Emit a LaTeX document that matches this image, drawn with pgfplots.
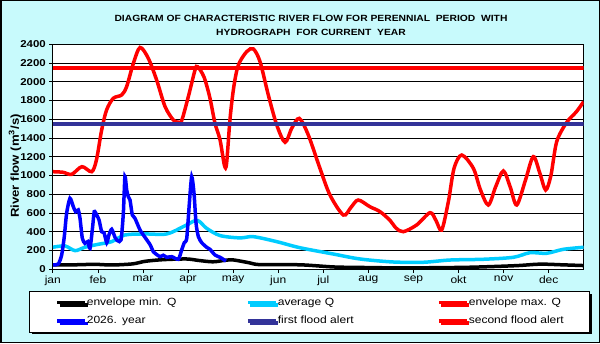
\documentclass[border=0pt]{standalone}
\usepackage{fontspec}
\setmainfont{Liberation Sans}[FakeStretch=1.15]
\usepackage{pgfplots}
\pgfplotsset{compat=1.18}
\usetikzlibrary{shadows}
\definecolor{chartbg}{RGB}{200,250,252}
\definecolor{avgq}{RGB}{0,204,255}
\definecolor{alertblue}{RGB}{51,51,153}

\begin{document}
\begin{tikzpicture}[x=1bp,y=1bp]
\fill[chartbg] (0,0) rectangle (600,343);
\draw[black, line width=1.5bp] (0.75,0.75) rectangle (599.25,342.25);
\node[font=\bfseries\fontsize{9}{14}\selectfont, align=center] at (311,318)
  {DIAGRAM OF CHARACTERISTIC RIVER FLOW FOR PERENNIAL~ PERIOD~ WITH\\HYDROGRAPH~ FOR CURRENT~ YEAR};
\begin{axis}[
    scale only axis, width=530.8bp, height=225bp,
    at={(52.8bp,73.7bp)}, anchor=south west,
    xmin=0, xmax=365, ymin=0, ymax=2400,
    xtick={0,31,...,341},
    xticklabels={jan,feb,mar,apr,may,jun,jul,aug,sep,okt,nov,dec},
    ytick={0,200,...,2400},
    ymajorgrids, grid style={black, line width=0.7bp},
    axis line style={line width=0.8bp},
    tick style={black, line width=0.7bp},
    tick align=outside, major tick length=3.5bp,
    xtick pos=bottom, ytick pos=left,
    axis background/.style={fill=white},
    /pgf/number format/assume math mode=true,
    /pgf/number format/1000 sep={},
    yticklabel style={font=\bfseries\fontsize{10}{12}\selectfont},
    xticklabel style={font=\fontsize{10.5}{12}\selectfont},
    ylabel={River flow (m\textsuperscript{3}/s)},
    ylabel style={font=\bfseries\fontsize{11.5}{13}\selectfont,
        at={(axis description cs:-0.0712,0.459)}, anchor=center},
    legend columns=3,
    legend cell align=left,
    legend image code/.code={\draw[#1] (0bp,0bp) -- (28bp,0bp);},
    legend style={
        at={(axis description cs:-0.045,-0.096)}, anchor=north west,
        draw=black, line width=0.8bp, fill=white,
        drop shadow={shadow xshift=2.5bp, shadow yshift=-2.5bp, fill=black, opacity=1},
        inner xsep=26bp, inner ysep=5bp,
        font=\fontsize{10.5}{12}\selectfont,
        row sep=6.5bp,
        nodes={inner xsep=0pt, inner ysep=1.5bp},
        /tikz/column 2/.style={text width=159bp},
        /tikz/column 4/.style={text width=159bp},
    },
]
% envelope min. Q
\addplot[black, line width=3.5bp, smooth, tension=0.5] coordinates {
(0,46) (15,48) (29,53) (40.5,46) (55,58) (63.4,85) (76,103) (92,110)
(100,95) (110,80) (118,95) (124,100) (135,70) (142.5,50) (170,48)
(193,25) (211,20) (240,15) (280,20) (300,28) (320,40) (335,55) (350,48) (365,40)};
\addlegendentry{envelope min. Q}
% average Q
\addplot[avgq, line width=3.5bp, smooth, tension=0.5] coordinates {
(0,235) (8.4,249) (15.3,199) (22,235) (31.3,267) (40.5,295) (49.6,366)
(63.4,377) (78.3,377) (89.7,455) (97.8,519) (101,508) (105.8,437) (115,360)
(128.7,335) (137.9,348) (154,295) (170,230) (192.9,163) (211.3,110)
(234.1,78) (254.8,75) (273.1,99) (296,107) (316.7,128) (328.1,177)
(339.6,171) (351,213) (365,235)};
\addlegendentry{average Q}
% envelope max. Q
\addplot[red, line width=3.5bp, smooth, tension=0.5] coordinates {
(0,1041) (7,1035) (13,1013) (20,1095) (26.7,1041) (30,1166) (33.6,1486)
(37,1700) (41.6,1824) (47.4,1860) (50.8,1950) (55.4,2197) (60,2366)
(65.7,2250) (71.4,2019) (77.2,1735) (82.9,1592) (86.3,1570) (88.6,1585)
(93.2,1842) (97.8,2126) (99.6,2161) (104,2050) (108,1830) (111.5,1560)
(115,1380) (118,1110) (119.5,1130) (121.9,1610) (124.5,1950) (127.6,2179)
(133.3,2321) (137.9,2350) (142.5,2215) (148.2,1859) (154,1539) (159.7,1355)
(164.3,1504) (169.5,1610) (175.7,1432) (183.7,1077) (190.6,792) (199.8,579)
(205,660) (210,739) (218,668) (225,615) (232,520) (236,440) (241,401)
(250.2,473) (259.4,604) (263.5,520) (267.4,419) (272,721) (275.9,1077)
(281.2,1219) (289.2,1077) (294,850) (299.5,686) (304.5,880) (309.8,1049)
(314.5,880) (319,686) (325,950) (330.4,1202) (335,1020) (338.9,846)
(342.5,1000) (346.5,1362) (353.4,1568) (360,1680) (365,1788)};
\addlegendentry{envelope max. Q}
% current year
\addplot[blue, line width=3.5bp, smooth, tension=0.4] coordinates {
(0.3,46) (3.8,57) (6.1,153) (7.9,348) (9.5,597) (11.8,757) (14.1,668)
(15.7,615) (17.5,633) (18.7,544) (20.3,331) (22.1,277) (24,295) (25.6,224)
(27.4,455) (28.5,615) (30.2,579) (31.8,526) (33.6,401) (35.2,391) (37.1,284)
(38.6,366) (40.5,427) (42.8,341) (44.6,305) (46.9,313) (48.5,597) (49.6,988)
(50.8,846) (51.9,775) (53.1,739) (54.7,579) (56.5,544) (60,419) (63.4,341)
(66.8,265) (69.1,188) (70.3,171) (73.7,135) (76,150) (78.3,128) (81.8,135)
(86.3,107) (88.6,206) (90.4,284) (92.1,331) (93.9,704) (95.5,988) (97.1,811)
(98.5,491) (100.1,348) (102.4,284) (105.8,235) (108.1,213) (111.5,153)
(115,128) (119.1,88)};
\addlegendentry{2026. year}
% alerts
\addplot[alertblue, line width=4bp] coordinates {(0,1550) (365,1550)};
\addlegendentry{first flood alert}
\addplot[red, line width=4bp] coordinates {(0,2150) (365,2150)};
\addlegendentry{second flood alert}
\end{axis}
\end{tikzpicture}
\end{document}
